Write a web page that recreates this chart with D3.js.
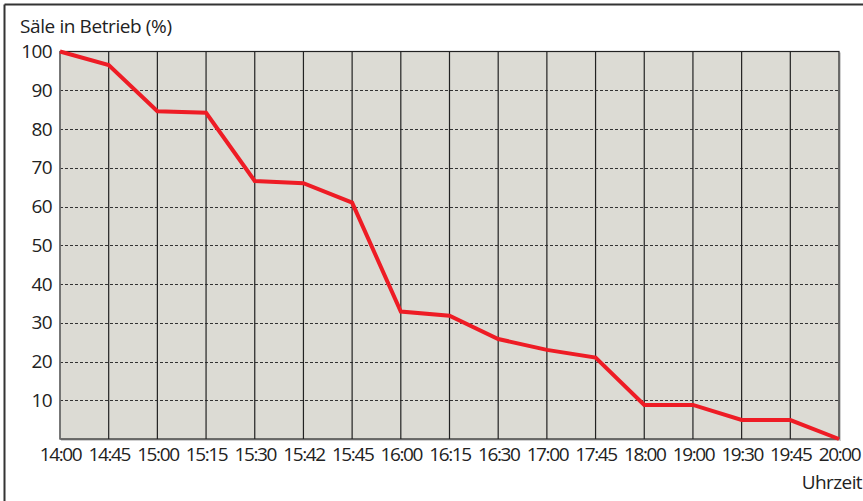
<!DOCTYPE html>
<html><head><meta charset="utf-8">
<script src="https://cdn.jsdelivr.net/npm/d3@7"></script>
<style>
html,body{margin:0;padding:0;background:#fff;}
svg{display:block;}
text{font-family:"Open Sans",sans-serif;fill:#222;}
</style></head>
<body><svg id="chart" width="863" height="501"></svg>
<script>
const times = ["14:00","14:45","15:00","15:15","15:30","15:42","15:45","16:00","16:15","16:30","17:00","17:45","18:00","19:00","19:30","19:45","20:00"];
const percentInOperation = [100,96.5,84.6,84.2,66.6,66,61,32.9,31.8,25.8,23,21,8.8,8.8,4.9,4.9,0];
const yTicks = [10,20,30,40,50,60,70,80,90,100];
const yTitle = "Säle in Betrieb (%)";
const xTitle = "Uhrzeit";

const svg = d3.select("#chart");
const L = 60, R = 839, T = 51.5, B = 439;

// outer frame (top and left)
svg.append("line").attr("x1",4.5).attr("x2",863).attr("y1",4.5).attr("y2",4.5).attr("stroke","#333").attr("stroke-width",2);
svg.append("line").attr("x1",4.5).attr("x2",4.5).attr("y1",4.5).attr("y2",501).attr("stroke","#333").attr("stroke-width",2);

const x = d3.scalePoint().domain(times).range([L, R]);
const y = d3.scaleLinear().domain([0,100]).range([B, T]);

// shadow
svg.append("rect").attr("x",L+1).attr("y",T+1).attr("width",R-L+1).attr("height",B-T+1).attr("fill","#d0d0d0");
// background
svg.append("rect").attr("x",L).attr("y",T).attr("width",R-L).attr("height",B-T).attr("fill","#dcdbd4");

// horizontal dashed grid
svg.append("g").selectAll("line").data(yTicks.filter(d=>d<100)).join("line")
  .attr("x1",L).attr("x2",R).attr("y1",d=>Math.round(y(d))+0.5).attr("y2",d=>Math.round(y(d))+0.5)
  .attr("stroke","#333").attr("stroke-width",1).attr("stroke-dasharray","3,2");

// vertical grid
svg.append("g").selectAll("line").data(times.slice(1,-1)).join("line")
  .attr("x1",d=>x(d)).attr("x2",d=>x(d)).attr("y1",T).attr("y2",B)
  .attr("stroke","#222").attr("stroke-width",1.2);

// plot border
svg.append("rect").attr("x",L).attr("y",T).attr("width",R-L).attr("height",B-T)
  .attr("fill","none").attr("stroke","#222").attr("stroke-width",1.2);
svg.append("line").attr("x1",L).attr("x2",L).attr("y1",T).attr("y2",B).attr("stroke","#777").attr("stroke-width",1.5);

// line
const line = d3.line().x((d,i)=>x(times[i])).y(d=>y(d));
svg.append("path").datum(percentInOperation).attr("d",line)
  .attr("fill","none").attr("stroke","#ee1c25").attr("stroke-width",4).attr("stroke-linejoin","miter");

// y axis labels
const yAxis = d3.axisLeft(y).tickValues(yTicks).tickSize(0).tickPadding(8);
const gy = svg.append("g").attr("transform",`translate(${L},0)`).call(yAxis);
gy.select(".domain").remove();
gy.selectAll("text").attr("font-size",19).attr("font-family",null).attr("fill","#222").attr("letter-spacing",-0.6);

// x axis labels
const xAxis = d3.axisBottom(x).tickSize(0).tickPadding(9);
const gx = svg.append("g").attr("transform",`translate(0,${B})`).call(xAxis);
gx.select(".domain").remove();
gx.selectAll("text").attr("font-size",19).attr("font-family",null).attr("fill","#222").attr("letter-spacing",-1.4);

svg.append("text").attr("x",20).attr("y",33).attr("font-size",19).attr("letter-spacing",-0.4).text(yTitle);
svg.append("text").attr("x",862).attr("y",489).attr("font-size",19).attr("text-anchor","end").attr("letter-spacing",-0.6).text(xTitle);
</script></body></html>
